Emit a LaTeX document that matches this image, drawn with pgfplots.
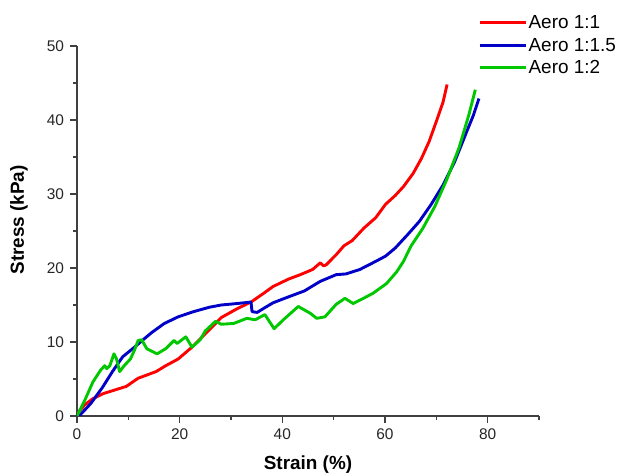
\documentclass[border=0pt]{standalone}
\usepackage{pgfplots}
\pgfplotsset{compat=1.18}
\usepackage{fontspec}
\setmainfont{Liberation Sans}
\definecolor{cred}{RGB}{255,0,0}
\definecolor{cblue}{RGB}{0,0,200}
\definecolor{cgreen}{RGB}{0,200,0}
\definecolor{axgray}{RGB}{64,64,64}
\begin{document}
\begin{tikzpicture}
\begin{axis}[
  name=ax,
  scale only axis,
  width=462bp, height=370bp,
  xmin=0, xmax=90, ymin=0, ymax=50,
  axis x line=bottom, axis y line=left,
  axis line style={-, axgray, line width=1.8bp},
  xtick={0,20,40,60,80}, ytick={0,10,20,30,40,50},
  minor xtick={10,30,50,70,90}, minor ytick={5,15,25,35,45},
  tick align=outside,
  major tick length=6.5bp, minor tick length=3.5bp,
  every tick/.style={axgray, line width=1.4bp},
  /pgf/number format/assume math mode=true,
  tick label style={font=\fontsize{15.5}{18}\selectfont, text=black!85},
  xticklabel style={yshift=-3bp},
  yticklabel style={xshift=-3bp},
  xlabel={\textbf{Strain (\%)}},
  ylabel={\textbf{Stress (kPa)}},
  label style={font=\fontsize{19}{22}\selectfont},
  xlabel style={at={(axis description cs:0.5,-0.132)}, anchor=center},
  ylabel style={at={(axis description cs:-0.1255,0.53)}, anchor=center},
  legend style={at={(axis description cs:0.868,1.087)}, anchor=north west, draw=none, fill=none,
    font=\fontsize{19}{23}\selectfont, inner sep=0pt, row sep=5bp,
    nodes={inner sep=1.5bp}},
  legend cell align=left,
  legend image code/.code={\draw[#1] (0bp,0bp) -- (46bp,0bp);},
  every axis plot/.append style={line width=2.9bp, line join=round},
]
\addplot[cred] coordinates {
(0,0.3) (0.4,0.6) (1.5,1.5) (3,2.3) (5,3.0) (7.3,3.5) (9.6,4.0) (11.9,5.1) (15.4,6.0) (17.3,6.8)
(19.7,7.7) (22.4,9.3) (25,11.1) (28.1,13.3) (31.2,14.5) (33.9,15.4) (36.2,16.5) (38.2,17.5)
(41.2,18.5) (43.5,19.1) (45.9,19.8) (47.4,20.7) (48,20.3) (48.5,20.4) (50.5,21.8) (52,23) (53.6,23.7)
(55.9,25.4) (58.2,26.8) (60.1,28.6) (62,29.8) (63.6,31) (65.5,32.8) (67.1,34.8) (68.6,37.1)
(70.1,40) (71.3,42.4) (72.1,44.8)
};
\addlegendentry{Aero 1:1}
\addplot[cblue] coordinates {
(0.4,0) (1.5,0.8) (2.7,1.7) (5,3.9) (6.9,6.0) (8.9,8.0) (11.2,9.3) (12.7,10.2) (14.6,11.3)
(17,12.5) (19.7,13.4) (22.7,14.1) (25.8,14.7) (28.1,15.0) (31.2,15.2) (33.9,15.4) (34.1,14.1)
(35.1,14.0) (36.5,14.6) (38.2,15.3) (41.2,16.1) (44.3,16.9) (47.4,18.2) (50.5,19.1) (52.4,19.2)
(55.1,19.8) (58.2,20.9) (60.1,21.6) (62,22.7) (64.4,24.5) (66.7,26.3) (69,28.6) (71.3,31.2)
(73.6,34.4) (75.9,38.4) (77.2,40.6) (78.3,42.9)
};
\addlegendentry{Aero 1:1.5}
\addplot[cgreen] coordinates {
(0,0) (1.5,2.1) (3.1,4.6) (4.6,6.2) (5.4,6.8) (5.8,6.4) (6.4,6.8) (7.2,8.4) (7.7,7.7) (8.3,6.0)
(9.2,6.8) (10.4,7.7) (11.2,8.9) (11.9,10.2) (12.6,10.3) (13.6,9.1) (15.6,8.4) (17.3,9.1)
(18.9,10.2) (19.5,9.8) (21.2,10.7) (22.4,9.3) (24,10.3) (25,11.5) (27,12.8) (28.1,12.4)
(30.5,12.5) (33.1,13.2) (34.7,13.0) (36.6,13.7) (38.4,11.8) (40.2,13.0) (43.1,14.8) (45.4,13.9)
(46.7,13.2) (48.3,13.4) (50.5,15.1) (52.2,15.9) (53.8,15.2) (55.8,15.9) (57.7,16.6) (60.3,17.9)
(62.3,19.5) (63.6,20.9) (65.1,23) (67.4,25.4) (69.7,28.3) (72,31.9) (74.4,36.2) (76.3,40.6) (77.6,44.1)
};
\addlegendentry{Aero 1:2}
\end{axis}
\pgfresetboundingbox
\path[use as bounding box] ([shift={(-77bp,-60bp)}]ax.south west) rectangle ([shift={(543bp,416bp)}]ax.south west);
\end{tikzpicture}
\end{document}
